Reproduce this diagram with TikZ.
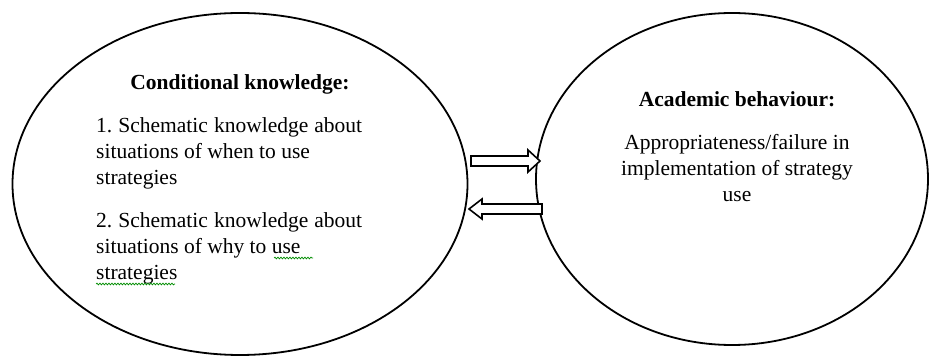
\documentclass[tikz,border=0pt]{standalone}
\usepackage{fontspec}
\setmainfont{Liberation Serif}
\usetikzlibrary{shapes.geometric,decorations.pathmorphing}
\frenchspacing
\begin{document}
\begin{tikzpicture}[x=1pt,y=-1pt,
  bubble/.style={draw=black,line width=1.8pt,ellipse,inner sep=0pt},
  blockarrow/.style={draw=black,line width=1.6pt,fill=white,line join=miter},
  txt/.style={inner sep=0pt,font=\fontsize{21.5}{26}\selectfont},
  head/.style={txt,font=\fontsize{21.5}{26}\selectfont\bfseries},
  spell/.style={draw=green!55!black,line width=0.7pt,decorate,
    decoration={snake,amplitude=0.9pt,segment length=3pt}}]
\useasboundingbox (0,0) rectangle (930,358);

% the two ellipses
\node[bubble,minimum width=455pt,minimum height=342pt] (cond) at (240,184) {};
\node[bubble,minimum width=392pt,minimum height=332pt] (acad) at (732,179) {};

% left ellipse text
\node[head,anchor=base] (condtitle) at (240,90) {Conditional knowledge:};
\node[txt,anchor=base west] (condone) at (96,133) {\parbox[t]{266pt}{\raggedright
  \makebox[266pt][s]{1. Schematic knowledge about}\\
  situations of when to use\\
  strategies}};
\node[txt,anchor=base west] (condtwo) at (96,228) {\parbox[t]{266pt}{\raggedright
  \makebox[266pt][s]{2. Schematic knowledge about}\\
  situations of why to use\\
  strategies}};

% spelling marks under two words
\draw[spell] (274,258) -- (313,258);
\draw[spell] (96,284) -- (175,284);

% right ellipse text
\node[head,anchor=base] (acadtitle) at (737,107) {Academic behaviour:};
\node[txt,anchor=base] (acadbody) at (737,150) {\parbox[t]{250pt}{\centering
  Appropriateness/failure in\\
  implementation of strategy\\
  use}};

% hollow block arrows between the ellipses
\draw[blockarrow] (471,156) -- (528,156) -- (528,150) -- (540,161) -- (528,172)
  -- (528,166) -- (471,166) -- cycle;
\draw[blockarrow] (542,204) -- (482,204) -- (482,199) -- (469,209) -- (482,219)
  -- (482,214) -- (542,214) -- cycle;
\end{tikzpicture}
\end{document}
